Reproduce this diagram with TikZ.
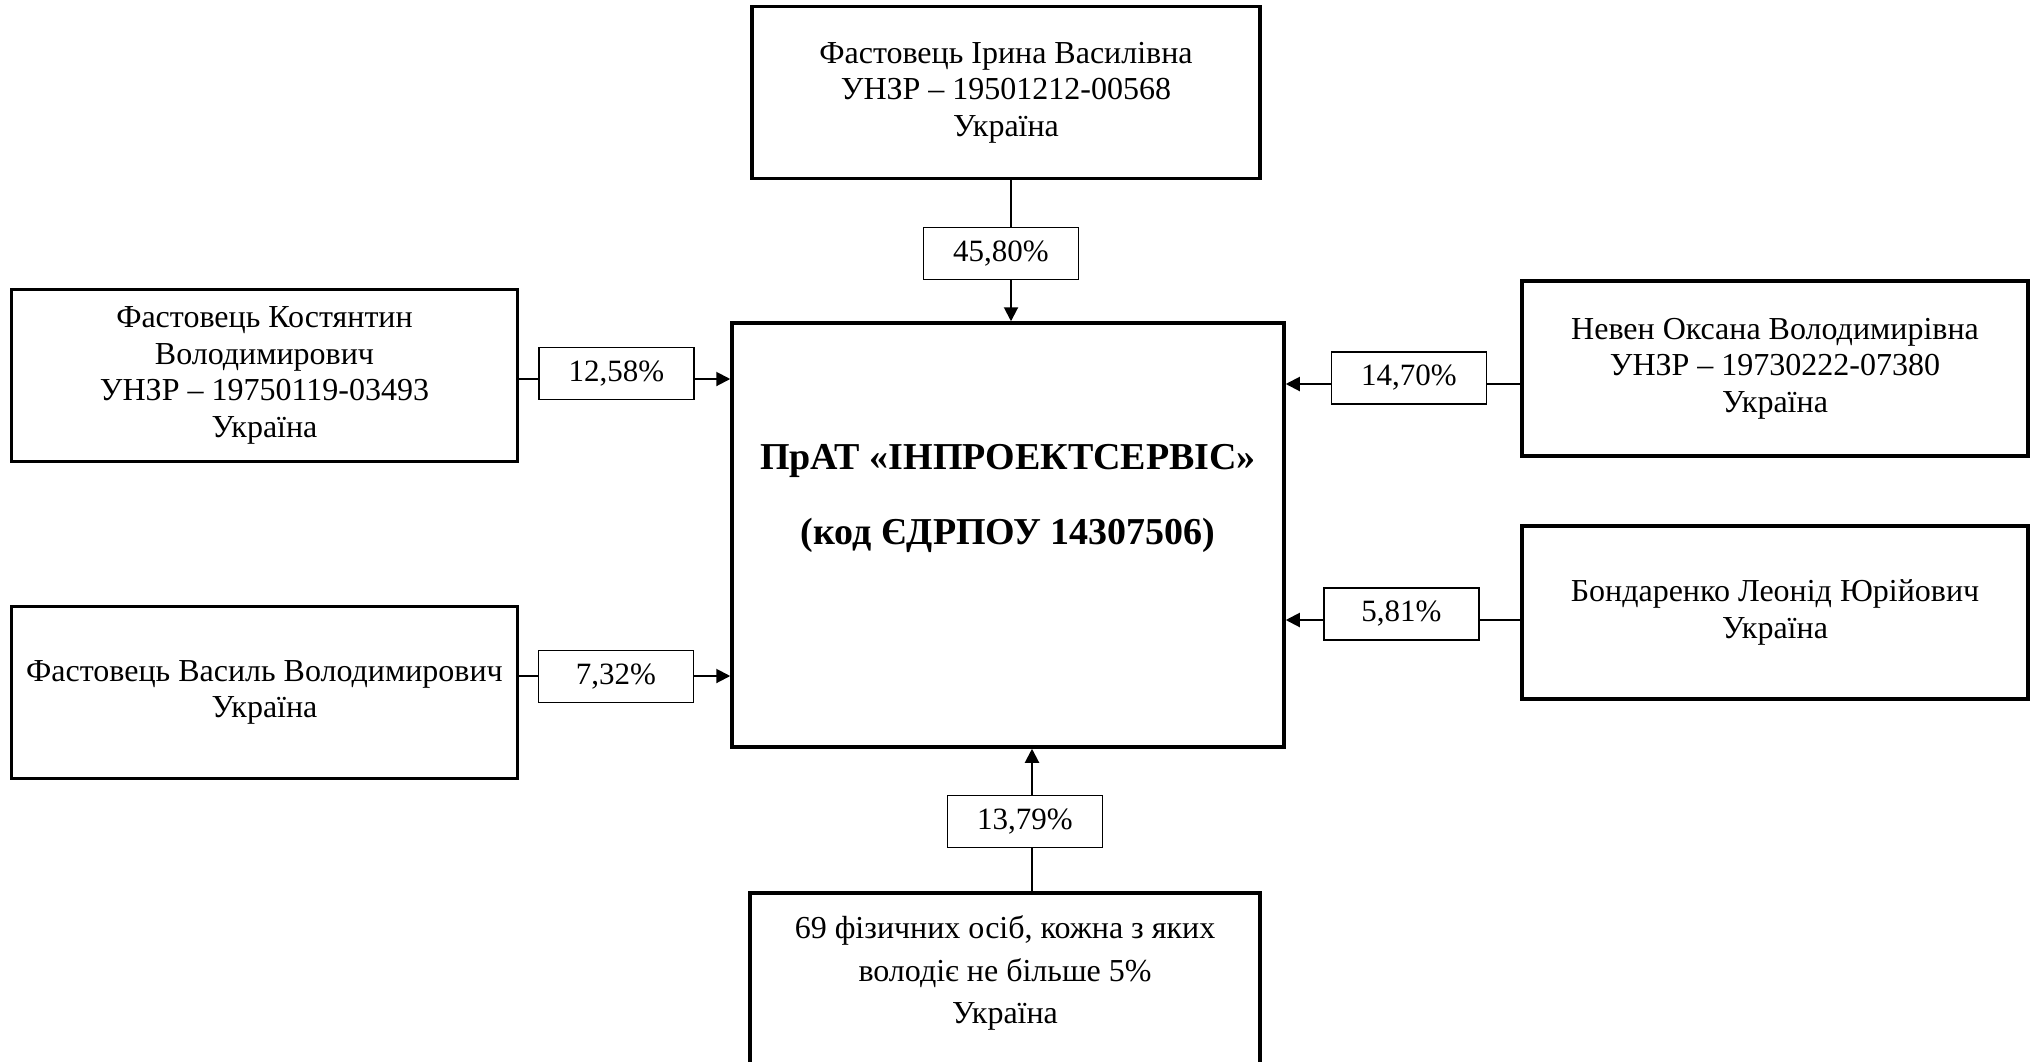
\documentclass[tikz,border=0pt]{standalone}
\usepackage{fontspec}
\setmainfont{Liberation Serif}
\usetikzlibrary{arrows.meta,positioning}

\begin{document}
\begin{tikzpicture}[x=1pt, y=-1pt, every node/.style={font=\fontsize{32}{36.5}\selectfont, align=center, inner sep=0pt}]
\tikzstyle{owner} = [draw, line width=3.5pt, minimum width=506pt, minimum height=172pt]
\tikzstyle{share} = [draw, line width=1.8pt, minimum width=155pt, minimum height=52pt,
  font=\fontsize{31}{36}\selectfont]
\tikzstyle{wire} = [line width=2pt]
\tikzstyle{link} = [wire, -{Triangle[length=14pt,width=14pt]}]

\useasboundingbox (0,0) rectangle (2038,1061);
\clip (0,0) rectangle (2038,1061);
\fill[white] (0,0) rectangle (2038,1061);

\node[owner, minimum width=552pt, minimum height=424pt,
  font=\fontsize{38}{44}\selectfont\bfseries] (firm) at (1008,535)
  {ПрАТ «ІНПРОЕКТСЕРВІС»\\[31pt] (код ЄДРПОУ 14307506)\\[23pt] \strut};

\node[owner, minimum width=508pt] (irina) at (1006,92.5)
  {Фастовець Ірина Василівна\\УНЗР – 19501212-00568\\Україна};
\node[owner] (kostiantyn) at (264.5,375.5)
  {Фастовець Костянтин\\Володимирович\\УНЗР – 19750119-03493\\Україна};
\node[owner] (vasyl) at (264.5,692.5)
  {Фастовець Василь Володимирович\\Україна};
\node[owner, minimum height=175pt] (oksana) at (1775,368.5)
  {Невен Оксана Володимирівна\\УНЗР – 19730222-07380\\Україна};
\node[owner, minimum height=173pt] (leonid) at (1775,612.5)
  {Бондаренко Леонід Юрійович\\Україна};
\node[owner, minimum width=510pt, minimum height=173pt,
  font=\fontsize{32}{42.5}\selectfont, text depth=19pt] (persons) at (1005,979.5)
  {69 фізичних осіб, кожна з яких\\володіє не більше 5\%\\Україна};

\node[share] (p1) at (1001,253.5) {45,80\%};
\node[share] (p2) at (616.5,373.5) {12,58\%};
\node[share] (p3) at (616,676.5) {7,32\%};
\node[share] (p4) at (1409,378) {14,70\%};
\node[share] (p5) at (1401.5,614) {5,81\%};
\node[share] (p6) at (1025,821.5) {13,79\%};

\coordinate (c1) at (1011,0);
\coordinate (c2) at (0,379);
\coordinate (c3) at (0,676);
\coordinate (c4) at (0,384);
\coordinate (c5) at (0,620);
\coordinate (c6) at (1032,0);

\draw[wire] (irina.south -| c1) -- (p1.north -| c1);
\draw[link] (p1.south -| c1) -- (firm.north -| c1);
\draw[wire] (kostiantyn.east |- c2) -- (p2.west |- c2);
\draw[link] (p2.east |- c2) -- (firm.west |- c2);
\draw[wire] (vasyl.east |- c3) -- (p3.west |- c3);
\draw[link] (p3.east |- c3) -- (firm.west |- c3);
\draw[wire] (oksana.west |- c4) -- (p4.east |- c4);
\draw[link] (p4.west |- c4) -- (firm.east |- c4);
\draw[wire] (leonid.west |- c5) -- (p5.east |- c5);
\draw[link] (p5.west |- c5) -- (firm.east |- c5);
\draw[wire] (persons.north -| c6) -- (p6.south -| c6);
\draw[link] (p6.north -| c6) -- (firm.south -| c6);
\end{tikzpicture}
\end{document}
